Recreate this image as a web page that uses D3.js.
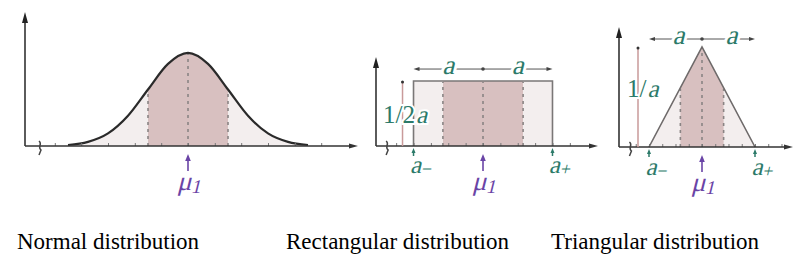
<!DOCTYPE html>
<html>
<head>
<meta charset="utf-8">
<script src="https://cdn.jsdelivr.net/npm/d3@7"></script>
<style>
  body { margin: 0; background: #fff; }
  svg { display: block; }
  .title { font-family: "Liberation Serif", "Times New Roman", serif; font-size: 23px; fill: #000; }
  .lbl { font-family: "Liberation Serif", "Times New Roman", serif; }
</style>
</head>
<body>
<svg id="chart" width="809" height="269"></svg>
<script>
// titles under each panel
const titles = ["Normal distribution", "Rectangular distribution", "Triangular distribution"];

// normal curve, x in sigma units, height relative to the peak
const normalX = [-3, -2.5, -2, -1.5, -1, -0.5, 0, 0.5, 1, 1.5, 2, 2.5, 3];
const normalY = [0.011, 0.044, 0.135, 0.325, 0.607, 0.882, 1, 0.882, 0.607, 0.325, 0.135, 0.044, 0.011];
const normalSigma = 1;
const normalTicks = [-3.33, -2.67, -2, -1.33, -0.67, 0, 0.67, 1.33, 2, 2.67, 3.33];

// rectangular, x in units of a
const rectX = [-1, -1, 1, 1];
const rectY = [0, 1, 1, 0];
const rectSigma = 0.577;
const rectTicks = [-1.25, -1, -0.75, -0.5, -0.25, 0, 0.25, 0.5, 0.75, 1, 1.25];

// triangular, x in units of a
const triX = [-1, 0, 1];
const triY = [0, 1, 0];
const triSigma = 0.408;
const triTicks = [-1.25, -1, -0.75, -0.5, -0.25, 0, 0.25, 0.5, 0.75, 1, 1.25, 1.5];

const teal = "#2c7a69", purple = "#6a44a6";
const outerFill = "#f3eeee", innerFill = "#d8c0c0";

const svg = d3.select("#chart");

function arrowHead(g, x, y, dir, color, len, half) {
  let p;
  if (dir == "up") p = [[x, y], [x - half, y + len], [x + half, y + len]];
  if (dir == "right") p = [[x, y], [x - len, y - half], [x - len, y + half]];
  if (dir == "left") p = [[x, y], [x + len, y - half], [x + len, y + half]];
  g.append("path").attr("d", "M" + p.join("L") + "Z").attr("fill", color);
}

function squiggle(g, x, y) {
  g.append("path")
    .attr("d", `M${x - 1},${y - 5} C${x + 3},${y - 2} ${x - 3},${y + 1} ${x + 1},${y + 4} L${x - 1},${y + 9}`)
    .attr("fill", "none").attr("stroke", "#444").attr("stroke-width", 1.5);
}

// italic is faked with a skew, the serif italic face is not there
function slanted(g, x, y) {
  return g.append("g").attr("transform", `translate(${x},${y}) skewX(-14)`)
    .append("text").attr("class", "lbl");
}

function subLabel(g, x, y, main, sub, color, size, subDy) {
  const t = slanted(g, x, y).attr("fill", color).attr("font-size", size)
    .attr("text-anchor", "middle");
  t.append("tspan").text(main);
  t.append("tspan").attr("dy", subDy).attr("font-size", size * 0.72).text(sub);
  return t;
}

function drawPanel(cfg) {
  const g = svg.append("g");
  const x = d3.scaleLinear().domain(cfg.xDomain).range(cfg.xRange);
  const y = d3.scaleLinear().domain(cfg.yDomain).range(cfg.yRange);
  const base = y(0);
  const pts = cfg.xs.map((v, i) => [v, cfg.ys[i]]);

  const area = d3.area().x(d => x(d[0])).y0(base).y1(d => y(d[1])).curve(cfg.curve);
  const line = d3.line().x(d => x(d[0])).y(d => y(d[1])).curve(cfg.curve);

  const clipId = "clip" + cfg.id;
  g.append("clipPath").attr("id", clipId).append("rect")
    .attr("x", x(-cfg.sigma)).attr("y", 0)
    .attr("width", x(cfg.sigma) - x(-cfg.sigma)).attr("height", base);

  g.append("path").datum(pts).attr("d", area).attr("fill", outerFill);
  g.append("path").datum(pts).attr("d", area).attr("fill", innerFill).attr("clip-path", `url(#${clipId})`);

  // dashed guides at mu and mu +- sigma
  const heightAt = v => {
    if (cfg.id == "n") return cfg.ys[cfg.xs.indexOf(v)];
    if (cfg.id == "r") return 1;
    return 1 - Math.abs(v);
  };
  [-cfg.sigma, 0, cfg.sigma].forEach(v => {
    g.append("line").attr("x1", x(v)).attr("x2", x(v))
      .attr("y1", base).attr("y2", y(heightAt(v)) + 1)
      .attr("stroke", "#8a8484").attr("stroke-width", 1.6)
      .attr("stroke-dasharray", "3,4");
  });

  g.append("path").datum(pts).attr("d", line).attr("fill", "none")
    .attr("stroke", cfg.stroke).attr("stroke-width", cfg.strokeW);

  // tick marks above the axis
  g.append("g").attr("transform", `translate(0,${base})`)
    .call(d3.axisTop(x).tickValues(cfg.ticks).tickSize(3).tickFormat(""))
    .call(a => a.select(".domain").remove())
    .call(a => a.selectAll("line").attr("stroke", "#777").attr("stroke-width", 1));

  // axes
  const x0 = cfg.xRange[0], x1 = cfg.xRange[1];
  g.append("line").attr("x1", x0).attr("x2", x1 - 6).attr("y1", base).attr("y2", base)
    .attr("stroke", "#333").attr("stroke-width", 1.6);
  arrowHead(g, x1, base, "right", "#333", 9, 2.5);
  g.append("line").attr("x1", x0).attr("x2", x0).attr("y1", base).attr("y2", cfg.yRange[1] + 8)
    .attr("stroke", "#333").attr("stroke-width", 1.6);
  arrowHead(g, x0, cfg.yRange[1], "up", "#222", 11, 3);
  squiggle(g, x(cfg.breakAt), base);

  // mu arrow and label
  const mx = x(0);
  g.append("line").attr("x1", mx).attr("x2", mx).attr("y1", base + 25).attr("y2", base + 13)
    .attr("stroke", purple).attr("stroke-width", 1.6);
  arrowHead(g, mx, base + 8, "up", purple, 7, 2.8);
  subLabel(g, mx + 1, base + 44, "\u03bc", "1", purple, 27, 3);

  if (cfg.id != "n") {
    // a- and a+ markers
    [-1, 1].forEach(v => {
      g.append("line").attr("x1", x(v)).attr("x2", x(v)).attr("y1", base + 10).attr("y2", base + 5)
        .attr("stroke", teal).attr("stroke-width", 1.5);
      arrowHead(g, x(v), base + 2, "up", teal, 5, 2);
    });
    subLabel(g, x(-1) + 7, base + cfg.aLblDy, "a", "\u2212", teal, 25, 2);
    subLabel(g, x(1) + 7, base + cfg.aLblDy, "a", "+", teal, 25, 2);

    // dimension line over the shape
    const dy = y(1) - cfg.dimGap;
    g.append("line").attr("x1", x(-1) + 5).attr("x2", x(1) - 5).attr("y1", dy).attr("y2", dy)
      .attr("stroke", "#555").attr("stroke-width", 1);
    arrowHead(g, x(-1), dy, "left", "#444", 6, 2);
    arrowHead(g, x(1), dy, "right", "#444", 6, 2);
    g.append("circle").attr("cx", x(0)).attr("cy", dy).attr("r", 1.8).attr("fill", "#444");
    [-0.5, 0.5].forEach(v => {
      slanted(g, x(v) + cfg.aShift, dy + 5)
        .attr("text-anchor", "middle").attr("font-size", 27)
        .attr("fill", teal).attr("stroke", "#fff").attr("stroke-width", 6)
        .attr("paint-order", "stroke").text("a");
    });

    // height marker
    const hx = x(-1) - 11;
    g.append("line").attr("x1", hx).attr("x2", hx).attr("y1", y(1)).attr("y2", base)
      .attr("stroke", "#c99a9a").attr("stroke-width", 1.5);
    g.append("circle").attr("cx", hx).attr("cy", y(1) + 1).attr("r", 1.5).attr("fill", "#333");
    const ht = g.append("text").attr("class", "lbl").attr("x", cfg.hLblX).attr("y", cfg.hLblY)
      .attr("font-size", 25).attr("fill", teal)
      .attr("stroke", "#fff").attr("stroke-width", 4).attr("paint-order", "stroke")
      .text(cfg.hLbl);
    const w = ht.node().getComputedTextLength();
    slanted(g, cfg.hLblX + w + 1, cfg.hLblY).attr("font-size", 25).attr("fill", teal)
      .attr("stroke", "#fff").attr("stroke-width", 4).attr("paint-order", "stroke").text("a");
  }
}

drawPanel({
  id: "n", xs: normalX, ys: normalY, sigma: normalSigma, ticks: normalTicks,
  xDomain: [-4.075, 4.25], xRange: [25, 358], yDomain: [0, 1.44], yRange: [146, 12],
  curve: d3.curveMonotoneX, stroke: "#2a2a2a", strokeW: 2.2, breakAt: -3.7
});
drawPanel({
  id: "r", xs: rectX, ys: rectY, sigma: rectSigma, ticks: rectTicks,
  xDomain: [-1.54, 1.655], xRange: [376, 598], yDomain: [0, 1.37], yRange: [146, 57],
  curve: d3.curveLinear, stroke: "#7a7777", strokeW: 1.6, breakAt: -1.38,
  aLblDy: 27, dimGap: 12, aShift: 0, hLbl: "1/2", hLblX: 383, hLblY: 123
});
drawPanel({
  id: "t", xs: triX, ys: triY, sigma: triSigma, ticks: triTicks,
  xDomain: [-1.566, 1.717], xRange: [619, 793], yDomain: [0, 1.2], yRange: [147, 27],
  curve: d3.curveLinear, stroke: "#6e6a6a", strokeW: 1.6, breakAt: -1.35,
  aLblDy: 28, dimGap: 8, aShift: 3, hLbl: "1/", hLblX: 627, hLblY: 97
});

svg.selectAll(".title").data(titles).enter().append("text")
  .attr("class", "title")
  .attr("x", (d, i) => [17, 286, 551][i])
  .attr("y", 249)
  .text(d => d);
</script>
</body>
</html>
